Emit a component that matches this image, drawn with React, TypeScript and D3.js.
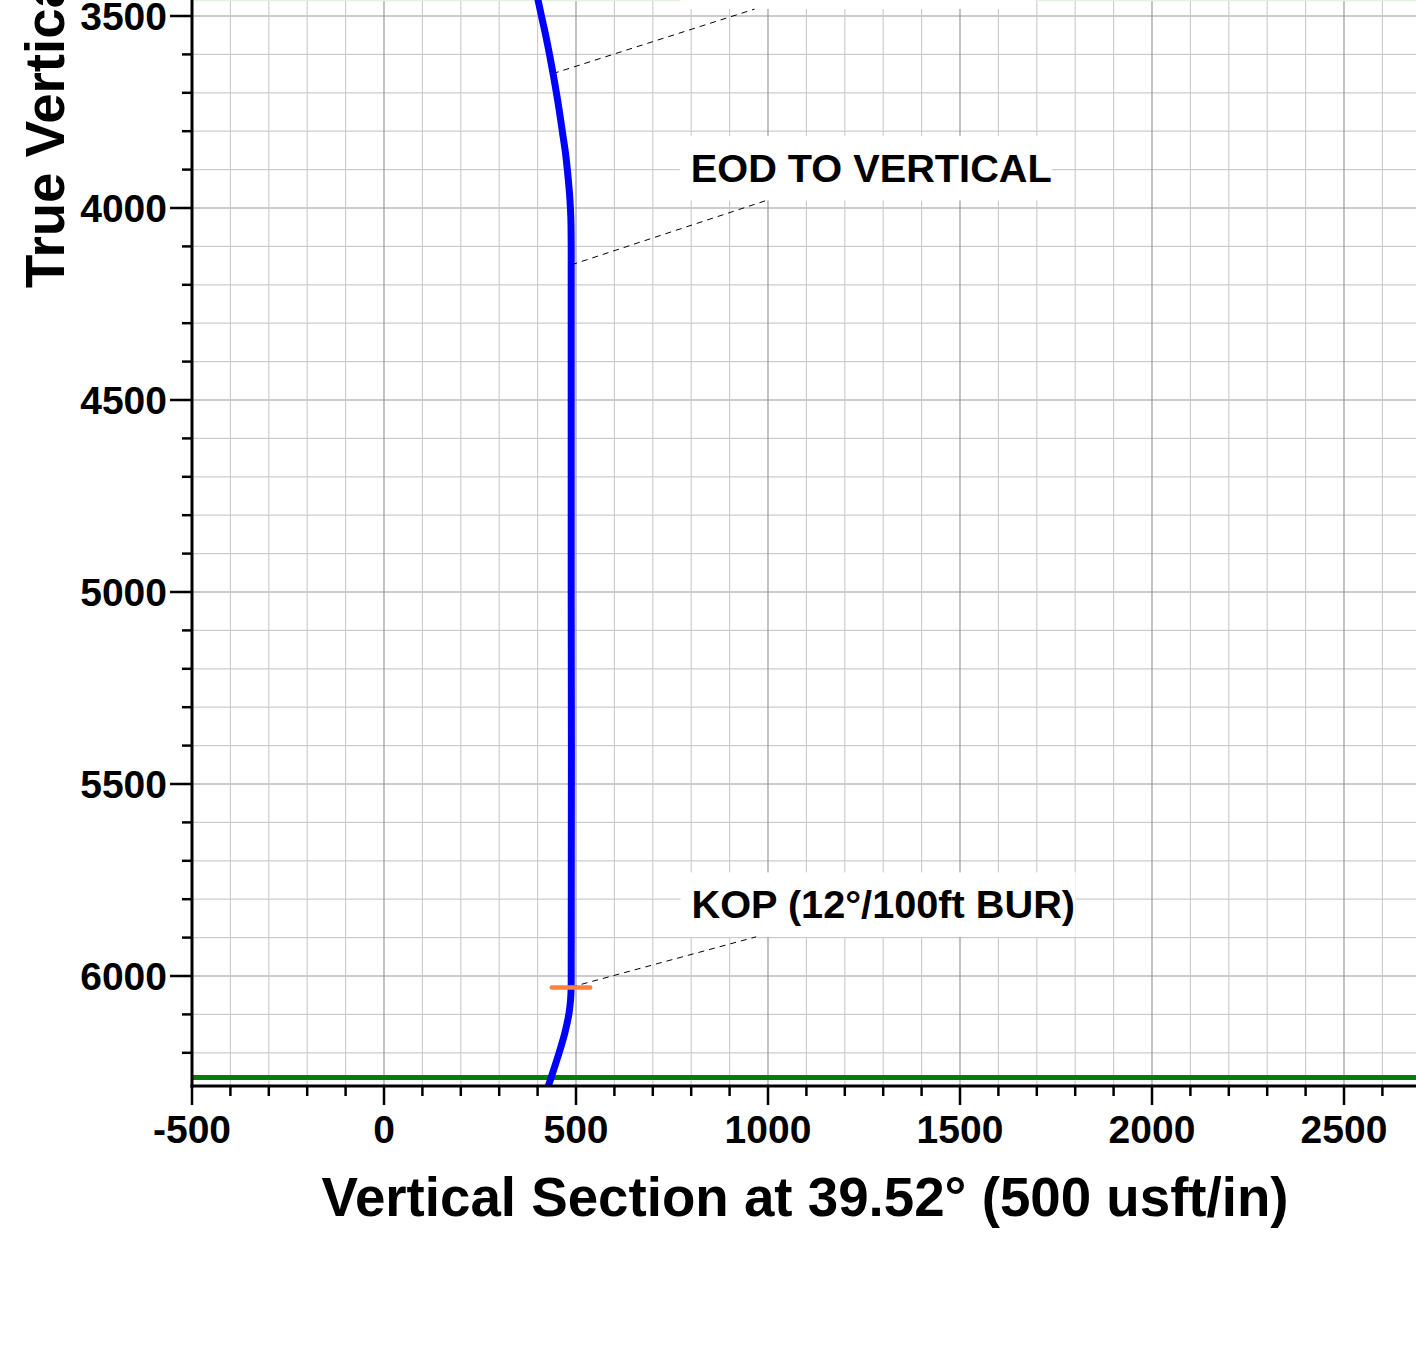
import * as React from 'react'
import * as d3 from 'd3'

// well path (TVD / vertical section, usft)
const wellTvd = [3440, 3458, 3500, 3550, 3600, 3649, 3700, 3750, 3805, 3860, 3927, 3975, 4023, 4100, 4154, 5000, 6023, 6060, 6096, 6148, 6200, 6253, 6286]
const wellVs = [397, 401, 410, 421, 431, 440, 449, 457, 465, 473, 480, 484, 486.5, 487.5, 487.5, 487.5, 487.5, 486, 482, 471, 456, 439, 428]

// formation / TD lines
const formationTvd = [3459, 6264]
const formationColor = ['#e3f1e3', '#008000']
const formationWidth = [2, 5]

// KOP marker
const kopTvd = 6030
const kopVs = 487
const kopHalf = 50

// annotations
const labelText = ['EOD TO VERTICAL', 'KOP (12°/100ft BUR)']
const labelVs = [799, 801]
const labelTvd = [3932, 5850]
const labelBoxW = [372, 395]

const leaderFromVs = [440, 488, 487]
const leaderFromTvd = [3650, 4148, 6029]
const leaderToVs = [965, 1000, 969]
const leaderToTvd = [3482, 3979, 5898]

// axis ticks
const vsMajor = [-500, 0, 500, 1000, 1500, 2000, 2500]
const vsMinor = d3.range(-500, 2700, 100)
const tvdMajor = [3500, 4000, 4500, 5000, 5500, 6000]
const tvdMinor = d3.range(3500, 6300, 100)

const W = 1416
const H = 1351
const font = '"Liberation Sans", Arial, sans-serif'

export default function App() {
  const x = d3.scaleLinear().domain([-500, 2500]).range([192, 1344])
  const y = d3.scaleLinear().domain([3500, 6000]).range([16, 976])
  const left = 192
  const bottom = 1086
  const right = W

  const line = d3.line<number>()
    .x(i => x(wellVs[i]))
    .y(i => y(wellTvd[i]))
    .curve(d3.curveCatmullRom.alpha(0.5))
  const pathD = line(wellTvd.map((_, i) => i)) || ''

  return (
    <svg width={W} height={H} style={{ position: 'absolute', left: 0, top: 0, background: '#fff' }}
      fontFamily={font} fontWeight="bold">
      <defs>
        <clipPath id="plot">
          <rect x={left} y={0} width={right - left} height={bottom} />
        </clipPath>
      </defs>
      <rect x={0} y={0} width={W} height={H} fill="#fff" />

      <g clipPath="url(#plot)">
        {/* grid */}
        {tvdMinor.map(t => (
          <line key={'hm' + t} x1={left} x2={right} y1={y(t)} y2={y(t)}
            stroke={t % 500 === 0 ? '#9a9a9a' : '#cdcdcd'} strokeWidth={1.2} />
        ))}
        {vsMinor.map(v => (
          <line key={'vm' + v} x1={x(v)} x2={x(v)} y1={0} y2={bottom}
            stroke={v % 500 === 0 ? '#9a9a9a' : '#cdcdcd'} strokeWidth={1.2} />
        ))}

        {formationTvd.map((t, i) => (
          <line key={'f' + i} x1={left + 1} x2={right + 10} y1={y(t)} y2={y(t)}
            stroke={formationColor[i]} strokeWidth={formationWidth[i]} strokeLinecap="round" />
        ))}

        {/* label boxes */}
        <rect x={680} y={-60} width={355} height={69} fill="#fff" />
        {labelText.map((s, i) => (
          <rect key={'b' + i} x={x(labelVs[i]) - 11} y={y(labelTvd[i]) - 46}
            width={labelBoxW[i]} height={64.5} fill="#fff" />
        ))}

        {/* leaders */}
        {leaderFromVs.map((v, i) => (
          <line key={'l' + i} x1={x(v)} y1={y(leaderFromTvd[i])} x2={x(leaderToVs[i])} y2={y(leaderToTvd[i])}
            stroke="#000" strokeWidth={1} strokeDasharray="6,5" />
        ))}

        <path d={pathD} fill="none" stroke="#0000ff" strokeWidth={7} strokeLinecap="round" />

        <line x1={x(kopVs - kopHalf)} x2={x(kopVs + kopHalf)} y1={y(kopTvd)} y2={y(kopTvd)}
          stroke="#ff8040" strokeWidth={4.5} strokeLinecap="round" />

        {labelText.map((s, i) => (
          <text key={'t' + i} x={x(labelVs[i])} y={y(labelTvd[i])} fontSize={39.7} fill="#000">{s}</text>
        ))}
      </g>

      {/* y axis */}
      <line x1={left} x2={left} y1={0} y2={bottom + 1.5} stroke="#000" strokeWidth={3} />
      {tvdMinor.map(t => (
        <line key={'yt' + t} x1={left} x2={left - (t % 500 === 0 ? 22 : 10)} y1={y(t)} y2={y(t)}
          stroke="#000" strokeWidth={2.5} />
      ))}
      {tvdMajor.map(t => (
        <text key={'yl' + t} x={167} y={y(t) + 14} fontSize={39} textAnchor="end">{t}</text>
      ))}

      {/* x axis */}
      <line x1={left - 1.5} x2={right} y1={bottom} y2={bottom} stroke="#000" strokeWidth={3} />
      {vsMinor.map(v => (
        <line key={'xt' + v} x1={x(v)} x2={x(v)} y1={bottom} y2={bottom + (v % 500 === 0 ? 19 : 10)}
          stroke="#000" strokeWidth={2.5} />
      ))}
      {vsMajor.map(v => (
        <text key={'xl' + v} x={x(v)} y={1143} fontSize={39} textAnchor="middle">{v}</text>
      ))}

      <text x={805} y={1216} fontSize={54.7} textAnchor="middle">Vertical Section at 39.52° (500 usft/in)</text>
      <text transform="translate(64,288) rotate(-90)" fontSize={54.7}>True Vertical Depth (500 usft/in)</text>
    </svg>
  )
}
